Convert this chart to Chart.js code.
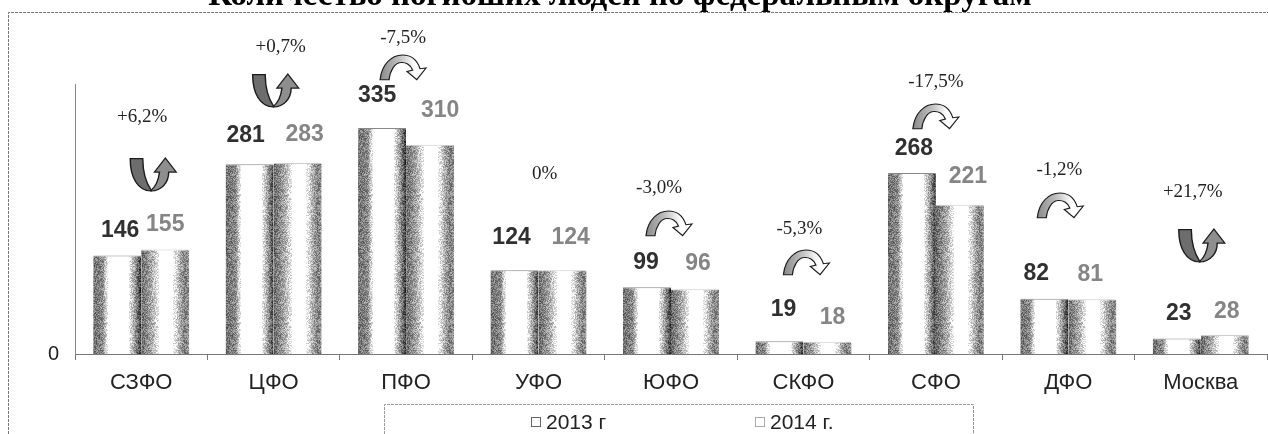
<!DOCTYPE html>
<html lang="ru">
<head>
<meta charset="utf-8">
<title>Количество погибших людей по федеральным округам</title>
<style>
  html, body { margin: 0; padding: 0; background: #fff; overflow: hidden; }
  canvas { display: block; }
</style>
<script src="https://cdn.jsdelivr.net/npm/chart.js@4"></script>
</head>
<body>
<canvas id="chart" width="1268" height="434"></canvas>
<script>
const chartTitle = 'Количество погибших людей по федеральным округам';
const categories = ['СЗФО', 'ЦФО', 'ПФО', 'УФО', 'ЮФО', 'СКФО', 'СФО', 'ДФО', 'Москва'];
const seriesNames = ['2013 г', '2014 г.'];
const values2013 = [146, 281, 335, 124, 99, 19, 268, 82, 23];
const values2014 = [155, 283, 310, 124, 96, 18, 221, 81, 28];
const changeLabels = ['+6,2%', '+0,7%', '-7,5%', '0%', '-3,0%', '-5,3%', '-17,5%', '-1,2%', '+21,7%'];

// where the hand-placed labels sit, relative to the bars or the category centre
const labelDx2013 = [3, -4, -5, -3, -1, 4, 2, -8, 2];
const labelDx2014 = [0, 7, 10, 8, 3, 5, 8, -2, 2];
const labelDy2013 = [25, 29, 32, 33, 25, 32, 24, 25, 25];
const labelDy2014 = [25, 28, 34, 33, 26, 24, 28, 25, 23];
const changeDx = [1, 7, -3, 6, -12, -4, 0, -9, -8];
const changeTop = [117, 47, 38, 174, 188, 229, 82, 170, 192];
const arrowDx = [12, 2, -3, 0, -2, 3, 0, -8, 1];
const arrowTop = [158, 74, 55, 0, 211, 250, 104, 193, 229];

const BAR_W = 48;
const cylinder2013 = [[0, .45], [.2, .55], [.31, 1], [.75, 1], [.86, .68], [1, .25]];
const cylinder2014 = [[0, .42], [.25, .72], [.38, 1], [.68, 1], [.82, .68], [.92, .5], [1, .58]];

// stippled cylinder shading like the scanned original
function stipple(stops) {
  const c = document.createElement('canvas');
  c.width = BAR_W; c.height = 128;
  const g = c.getContext('2d');
  const img = g.createImageData(BAR_W, 128);
  let seed = 12345;
  for (let y = 0; y < 128; y++) {
    for (let x = 0; x < BAR_W; x++) {
      const t = x / (BAR_W - 1);
      let k = 1;
      while (k < stops.length - 1 && stops[k][0] < t) k++;
      const a = stops[k - 1], b = stops[k];
      const tone = a[1] + (b[1] - a[1]) * (t - a[0]) / (b[0] - a[0]);
      seed = (seed * 1103515 + 12345) % 2147483648;
      const n = (seed >> 8) % 1000 / 1000;
      const v = tone >= 1 ? 255 : Math.max(0, Math.min(255, (tone + (n - 0.5) * 0.38) * 255));
      const i = (y * BAR_W + x) * 4;
      img.data[i] = img.data[i + 1] = img.data[i + 2] = v;
      img.data[i + 3] = 255;
    }
  }
  g.putImageData(img, 0, 0);
  return c;
}
const tiles = [stipple(cylinder2013), stipple(cylinder2014)];

function barFill(ctx) {
  const chart = ctx.chart;
  const xs = chart.scales.x;
  if (!xs || ctx.dataIndex === undefined) return '#999';
  const left = Math.round(xs.getPixelForValue(ctx.dataIndex)) - (ctx.datasetIndex === 0 ? BAR_W : 0);
  const p = chart.ctx.createPattern(tiles[ctx.datasetIndex], 'repeat');
  p.setTransform(new DOMMatrix().translate(left, 0));
  return p;
}

function drawUpArrow(g, x, y) {
  const sx = 46 / 110, sy = 33 / 94;
  g.save();
  g.translate(x, y);
  g.scale(sx, sy);
  g.lineWidth = 3.4;
  g.strokeStyle = '#1c1c1c';
  g.fillStyle = '#6d6d6d';
  g.beginPath();
  g.moveTo(0, 2); g.lineTo(30, 2);
  g.bezierCurveTo(30, 40, 38, 70, 50, 92);
  g.lineTo(50, 94);
  g.bezierCurveTo(18, 94, 0, 55, 0, 2);
  g.closePath(); g.fill(); g.stroke();
  g.fillStyle = '#8e8e8e';
  g.beginPath();
  g.moveTo(50, 94);
  g.bezierCurveTo(75, 94, 92, 70, 92, 40);
  g.lineTo(110, 40); g.lineTo(84, 0); g.lineTo(58, 40); g.lineTo(70, 40);
  g.bezierCurveTo(68, 60, 60, 82, 50, 92);
  g.closePath(); g.fill(); g.stroke();
  g.restore();
}

function drawDownArrow(g, x, y) {
  const sx = 46 / 113, sy = 25 / 73;
  g.save();
  g.translate(x, y);
  g.scale(sx, sy);
  const fill = g.createLinearGradient(0, 0, 85, 0);
  fill.addColorStop(0, '#8a8a8a');
  fill.addColorStop(.55, '#c0c0c0');
  fill.addColorStop(1, '#fff');
  g.fillStyle = fill;
  g.lineWidth = 3;
  g.strokeStyle = '#1c1c1c';
  g.beginPath();
  g.moveTo(0, 72);
  g.bezierCurveTo(4, 25, 30, 0, 55, 0);
  g.bezierCurveTo(78, 0, 92, 18, 98, 40);
  g.lineTo(113, 38); g.lineTo(90, 72); g.lineTo(66, 48); g.lineTo(80, 44);
  g.bezierCurveTo(75, 28, 62, 20, 50, 22);
  g.bezierCurveTo(36, 24, 24, 45, 22, 72);
  g.closePath(); g.fill(); g.stroke();
  g.restore();
}

const annotations = {
  id: 'annotations',
  afterDatasetsDraw(chart) {
    const g = chart.ctx;
    const xs = chart.scales.x;
    g.save();
    // value labels
    g.font = 'bold 23px "Liberation Sans"';
    g.textAlign = 'center';
    g.textBaseline = 'middle';
    chart.getDatasetMeta(0).data.forEach((bar, i) => {
      g.fillStyle = '#303030';
      g.fillText(values2013[i], bar.x + labelDx2013[i], bar.y - labelDy2013[i]);
    });
    chart.getDatasetMeta(1).data.forEach((bar, i) => {
      g.fillStyle = '#858585';
      g.fillText(values2014[i], bar.x + labelDx2014[i], bar.y - labelDy2014[i]);
    });
    // yearly change text and arrows
    g.font = '19px "Liberation Serif"';
    g.fillStyle = '#222';
    changeLabels.forEach((txt, i) => {
      const cx = xs.getPixelForValue(i);
      g.fillText(txt, cx + changeDx[i], changeTop[i]);
      if (txt[0] === '+') drawUpArrow(g, cx + arrowDx[i] - 23, arrowTop[i]);
      if (txt[0] === '-') drawDownArrow(g, cx + arrowDx[i] - 23, arrowTop[i]);
    });
    g.restore();
  },
  afterDraw(chart) {
    const g = chart.ctx;
    g.save();
    // title is cut by the top of the scan
    g.font = 'bold 33px "Liberation Serif"';
    g.fillStyle = '#000';
    g.textAlign = 'center';
    g.textBaseline = 'alphabetic';
    g.fillText(chartTitle, 620, 5);
    // frame of the page
    g.strokeStyle = '#777';
    g.lineWidth = 1;
    g.setLineDash([3, 1]);
    g.beginPath();
    g.moveTo(8.5, 434); g.lineTo(8.5, 12.5); g.lineTo(1268, 12.5);
    g.stroke();
    // legend box
    g.strokeStyle = '#999';
    g.beginPath();
    g.moveTo(384.5, 434); g.lineTo(384.5, 404.5); g.lineTo(973.5, 404.5); g.lineTo(973.5, 434);
    g.stroke();
    g.setLineDash([]);
    g.font = '21px "Liberation Sans"';
    g.fillStyle = '#222';
    g.textAlign = 'left';
    g.textBaseline = 'middle';
    [[531, 546], [755, 770]].forEach((pos, i) => {
      g.strokeStyle = i ? '#aaa' : '#666';
      g.strokeRect(pos[0] + 0.5, 417.5, 9, 9);
      g.fillText(seriesNames[i], pos[1], 423);
    });
    g.restore();
  }
};

const barStyle = {
  backgroundColor: barFill,
  borderWidth: { top: 1 },
  borderSkipped: false,
  categoryPercentage: 2 * BAR_W / 132.4,
  barPercentage: 1
};

new Chart(document.getElementById('chart'), {
  type: 'bar',
  data: {
    labels: categories,
    datasets: [
      { label: seriesNames[0], data: values2013, borderColor: '#888', ...barStyle },
      { label: seriesNames[1], data: values2014, borderColor: '#ccc', ...barStyle }
    ]
  },
  plugins: [annotations],
  options: {
    responsive: false,
    animation: false,
    layout: { padding: { top: 84, right: 1, left: 0, bottom: 0 } },
    plugins: { legend: { display: false }, title: { display: false }, tooltip: { enabled: false } },
    scales: {
      x: {
        afterFit(axis) { axis.height = 80; },
        grid: { offset: true, drawOnChartArea: false, tickLength: 6, color: '#777' },
        border: { color: '#777', dash: [3, 1] },
        ticks: { color: '#222', font: { family: '"Liberation Sans"', size: 22 }, padding: 10, maxRotation: 0 }
      },
      y: {
        min: 0,
        max: 400,
        afterFit(axis) { axis.width = 75; },
        grid: { display: false },
        border: { color: '#888', dash: [2, 2] },
        ticks: {
          stepSize: 400,
          padding: 8,
          color: '#222',
          font: { family: '"Liberation Sans"', size: 20 },
          callback: v => (v === 0 ? '0' : '')
        }
      }
    }
  }
});
</script>
</body>
</html>
